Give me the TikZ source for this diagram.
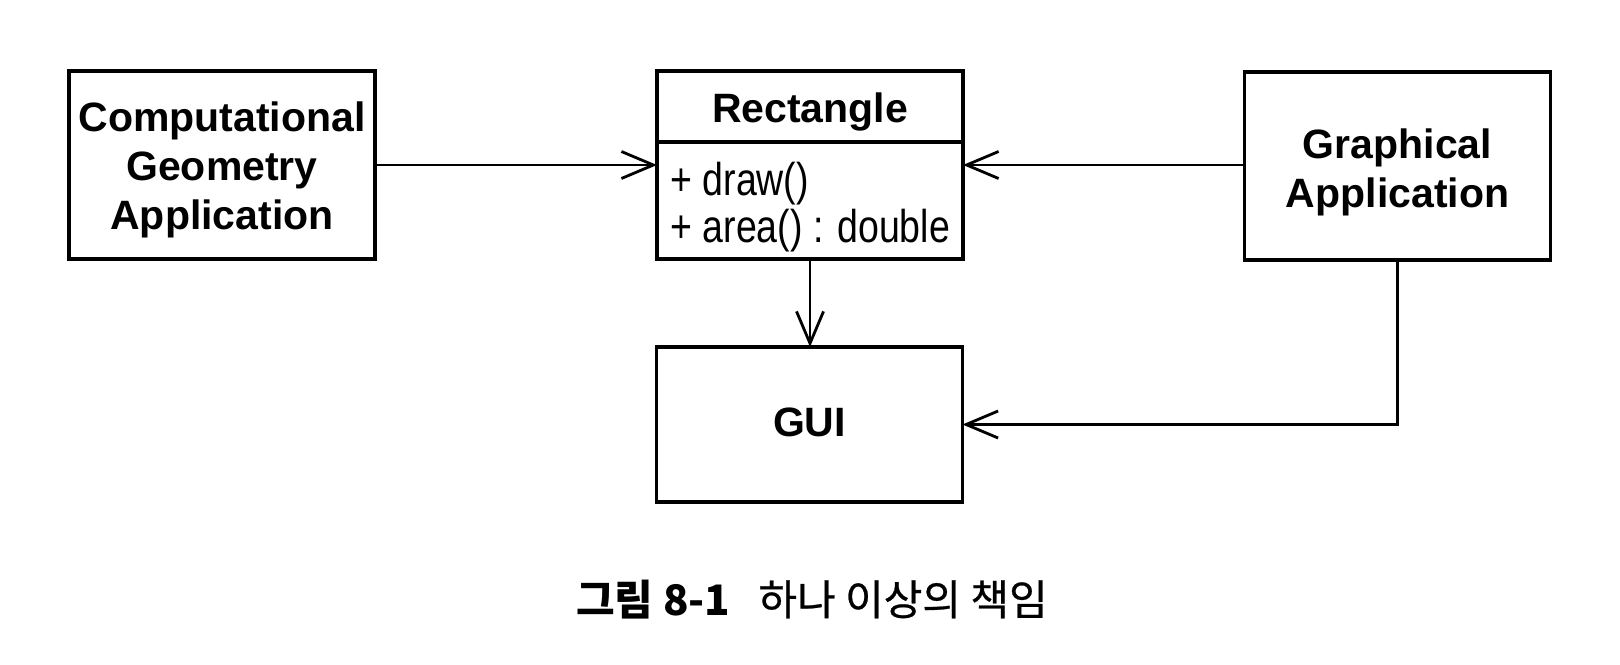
\documentclass[tikz,border=0pt]{standalone}
\usepackage{fontspec}
\setmainfont{Liberation Sans}
\newfontfamily\narrowfont[FakeStretch=0.815]{Liberation Sans}
\newfontfamily\cjk{Noto Sans CJK KR}
\newfontfamily\cjkmed[FakeBold=0.6]{Noto Sans CJK KR}
\usetikzlibrary{arrows.meta}
\begin{document}
\begin{tikzpicture}[x=0.5pt,y=-0.5pt,
  box/.style={draw,line width=1.6pt,minimum width=153pt,inner sep=0pt,outer sep=0pt},
  label/.style={inner sep=0pt,align=center,font=\fontsize{20.5pt}{24.5pt}\selectfont\bfseries},
  method/.style={anchor=base west,inner sep=0pt,font=\fontsize{23pt}{23pt}\narrowfont},
  arr/.style={line width=1.4pt,-{Straight Barb[length=16pt,width=13.5pt]}}
  ]
\useasboundingbox (0,0) rectangle (1620,664);
\node[box,minimum height=94pt] (cga) at (222,165) {};
\node[label] (cgatext) at (222,170) {Computational\\Geometry\\Application};
\node[box,minimum height=94pt] (rect) at (810,165) {};
\node[label,anchor=base] (rtitle) at (810,122) {Rectangle};
\coordinate (divl) at (657,142);
\coordinate (divr) at (963,142);
\draw[line width=1.6pt] (rect.west |- divl) -- (rect.east |- divr);
\node[method] (m1) at (670,195) {+ draw()};
\node[method] (m2) at (670,242) {+ area() : double};
\node[box,minimum height=94pt] (ga) at (1397.5,166) {};
\node[label] (gatext) at (1397.5,172) {Graphical\\Application};
\node[box,minimum height=77.5pt] (gui) at (809.5,424.5) {};
\node[label] (guitext) at (809.5,422) {GUI};
\draw[arr] (cga.east) -- (rect.west);
\draw[arr] (rect.east -| ga.west) -- (rect.east);
\draw[arr] (rect.south) -- (rect.south |- gui.north);
\draw[arr] (ga.south) |- (gui.east);
\node[inner sep=0pt,anchor=base] (cap) at (812,615) {\fontsize{21pt}{21pt}\selectfont{\cjk\bfseries 그림 8-1}\hspace{14pt}{\cjkmed 하나 이상의 책임}};
\end{tikzpicture}
\end{document}
